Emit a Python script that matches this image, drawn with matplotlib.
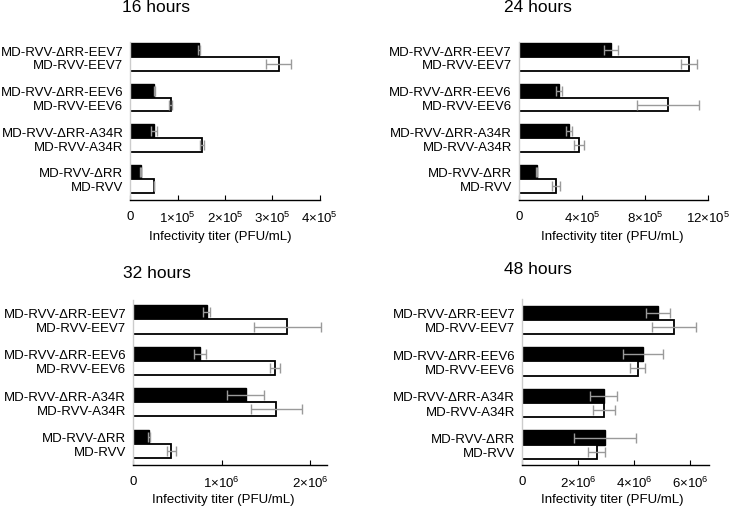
import matplotlib
matplotlib.use("Agg")
import matplotlib.pyplot as plt
import numpy as np

plt.rcParams['font.family'] = ['Liberation Sans', 'DejaVu Sans']
plt.rcParams['mathtext.fontset'] = 'custom'
plt.rcParams['mathtext.rm'] = 'Liberation Sans'
plt.rcParams['mathtext.it'] = 'Liberation Sans'

groups = ["MD-RVV", "MD-RVV-A34R", "MD-RVV-EEV6", "MD-RVV-EEV7"]
groups_drr = ["MD-RVV-ΔRR", "MD-RVV-ΔRR-A34R", "MD-RVV-ΔRR-EEV6", "MD-RVV-ΔRR-EEV7"]

titles = ["16 hours", "24 hours", "32 hours", "48 hours"]

# order: RVV, A34R, EEV6, EEV7
drr_vals = [
    [0.22e5, 0.50e5, 0.51e5, 1.45e5],
    [1.14e5, 3.20e5, 2.56e5, 5.84e5],
    [0.177e6, 1.27e6, 0.756e6, 0.83e6],
    [2.96e6, 2.92e6, 4.32e6, 4.85e6],
]
drr_err = [
    [0.01e5, 0.06e5, 0.02e5, 0.03e5],
    [0.04e5, 0.20e5, 0.20e5, 0.43e5],
    [0.01e6, 0.21e6, 0.07e6, 0.04e6],
    [1.12e6, 0.48e6, 0.71e6, 0.42e6],
]
wt_vals = [
    [0.49e5, 1.51e5, 0.85e5, 3.13e5],
    [2.35e5, 3.81e5, 9.44e5, 10.77e5],
    [0.432e6, 1.617e6, 1.598e6, 1.744e6],
    [2.67e6, 2.94e6, 4.13e6, 5.43e6],
]
wt_err = [
    [0.0, 0.04e5, 0.03e5, 0.27e5],
    [0.25e5, 0.34e5, 1.94e5, 0.50e5],
    [0.05e6, 0.286e6, 0.056e6, 0.38e6],
    [0.31e6, 0.39e6, 0.26e6, 0.80e6],
]

xticks = [
    [0, 1e5, 2e5, 3e5, 4e5],
    [0, 4e5, 8e5, 12e5],
    [0, 1e6, 2e6],
    [0, 2e6, 4e6, 6e6],
]
xticklabels = [
    ["0", "1×10$^{5}$", "2×10$^{5}$", "3×10$^{5}$", "4×10$^{5}$"],
    ["0", "4×10$^{5}$", "8×10$^{5}$", "12×10$^{5}$"],
    ["0", "1×10$^{6}$", "2×10$^{6}$"],
    ["0", "2×10$^{6}$", "4×10$^{6}$", "6×10$^{6}$"],
]
xmax = [4e5, 12e5, 2.19e6, 6.68e6]

W, H = 731, 510
fig = plt.figure(figsize=(W / 100, H / 100), dpi=100)

# pixel boxes: left, right, top, bottom
boxes = [
    (130.3, 319.7, 43, 201),
    (518.7, 708.3, 43, 201),
    (133, 327, 301, 466),
    (522, 709, 300, 466),
]
ylims = [(-0.52, 3.37), (-0.52, 3.37), (-0.51, 3.47), (-0.49, 3.5)]
title_pos = [(156, 7), (538, 7), (156.5, 273), (537.5, 270)]
xlabel_x = [220, 612, 223, 612]
xlabel_y = [237, 237, 500, 500]

bh = 0.34
for i in range(4):
    l, r, t, b = boxes[i]
    ax = fig.add_axes([l / W, 1 - b / H, (r - l) / W, (b - t) / H])
    y = np.arange(4)
    ax.barh(y + bh / 2, drr_vals[i], height=bh, color='black', edgecolor='black',
            linewidth=1.0, zorder=2)
    ax.barh(y - bh / 2, wt_vals[i], height=bh, color='white', edgecolor='black',
            linewidth=1.3, zorder=2)
    ax.errorbar(drr_vals[i], y + bh / 2, xerr=drr_err[i], fmt='none', ecolor='#9a9a9a',
                elinewidth=1.0, capsize=3.5, capthick=1.0, zorder=3)
    ax.errorbar(wt_vals[i], y - bh / 2, xerr=wt_err[i], fmt='none', ecolor='#9a9a9a',
                elinewidth=1.0, capsize=3.5, capthick=1.0, zorder=3)
    ax.set_xlim(0, xmax[i])
    ax.set_ylim(*ylims[i])
    yt = list(y - bh / 2) + list(y + bh / 2)
    yl = groups + groups_drr
    ax.set_yticks(yt)
    ax.set_yticklabels(yl, fontsize=9.5)
    ax.tick_params(axis='y', length=0, pad=5)
    ax.set_xticks(xticks[i])
    ax.set_xticklabels(xticklabels[i], fontsize=9.5)
    ax.tick_params(axis='x', direction='in', length=3.5, width=0.8, pad=7)
    for s in ['top', 'right']:
        ax.spines[s].set_visible(False)
    ax.spines['left'].set_color('#cccccc')
    ax.spines['left'].set_linewidth(1.0)
    ax.spines['bottom'].set_color('black')
    ax.spines['bottom'].set_linewidth(1.0)
    fig.text(xlabel_x[i] / W, 1 - xlabel_y[i] / H, "Infectivity titer (PFU/mL)",
             fontsize=9.5, ha='center', va='center')
    fig.text(title_pos[i][0] / W, 1 - title_pos[i][1] / H, titles[i],
             fontsize=12.5, ha='center', va='center')

fig.savefig("out.png", dpi=100)
